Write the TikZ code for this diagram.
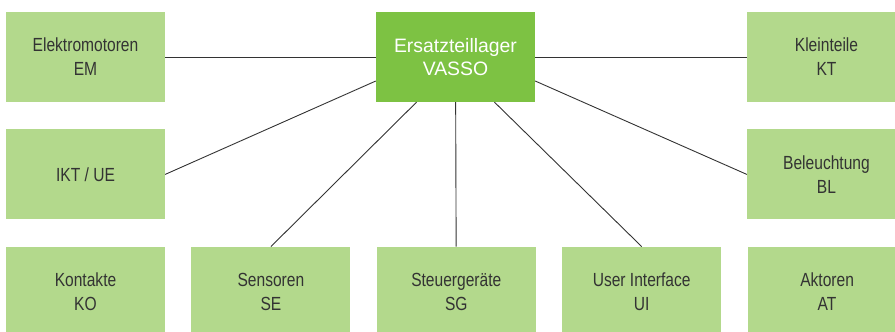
\documentclass[tikz,border=0pt]{standalone}
\usepackage{fontspec}
\setmainfont{Liberation Sans}
\newfontfamily\condfont{Liberation Sans}[FakeStretch=0.82]
\usepackage{xcolor}
\usepackage{tikz}
\usetikzlibrary{positioning}
\definecolor{partgreen}{HTML}{B3D98C}
\definecolor{hubgreen}{HTML}{7DC243}
\definecolor{inkgray}{HTML}{333333}

\begin{document}
\begin{tikzpicture}[
    x=1pt, y=-1pt,
    node distance=26pt and 26pt,
    part/.style={fill=partgreen, minimum width=159pt, minimum height=90pt, inner sep=0pt, align=center, text=inkgray, font=\condfont\fontsize{19}{24}\selectfont},
    hub/.style={fill=hubgreen, minimum width=159pt, minimum height=90pt, inner sep=0pt, align=center, text=white, font=\fontsize{19.4}{23}\selectfont},
    link/.style={draw=inkgray, line width=0.9pt}
]
\useasboundingbox (0,0) rectangle (895,332);
\clip (0,0) rectangle (895,332);

% top row
\node[part] (em) at (85.5,57) {Elektromotoren\\EM};
\node[hub] (lager) at (455.5,57) {Ersatzteillager\\VASSO};
\node[part] (kt) at (826.5,57) {Kleinteile\\KT};

% middle row
\node[part, below=27pt of em] (ikt) {IKT / UE};
\node[part, below=27pt of kt] (bl) {Beleuchtung\\BL};

% bottom row
\node[part, below=27pt of ikt] (ko) {Kontakte\\KO};
\node[part, right=26pt of ko] (se) {Sensoren\\SE};
\node[part, right=26pt of se] (sg) {Steuergeräte\\SG};
\node[part, right=26pt of sg] (ui) {User Interface\\UI};
\node[part, right=26pt of ui] (at) {Aktoren\\AT};

% connectors
\draw[link] (em) -- (lager);
\draw[link] (kt) -- (lager);
\draw[link] (ikt.east) -- ([yshift=-24pt]lager.west);
\draw[link] (bl.west) -- ([yshift=-24pt]lager.east);
\draw[link] (se.north) -- ([xshift=-39pt]lager.south);
\draw[link] (sg) -- (lager);
\draw[link] (ui.north) -- ([xshift=39pt]lager.south);
\end{tikzpicture}
\end{document}
